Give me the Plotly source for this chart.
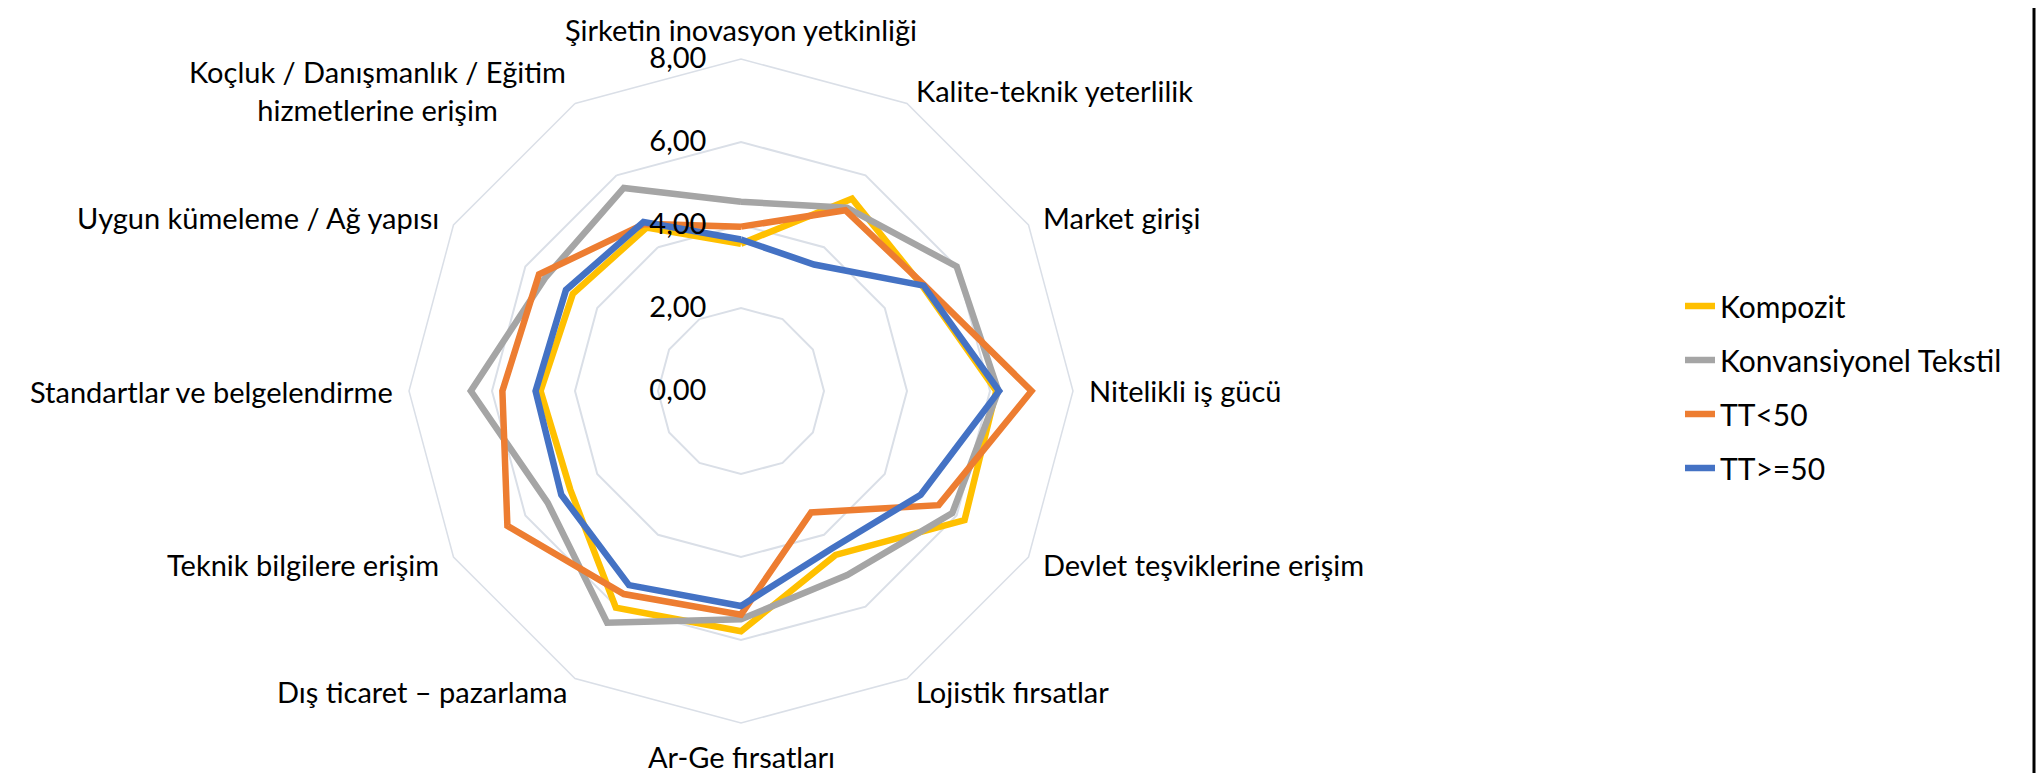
import math
import plotly.graph_objects as go

categories = [
    "Şirketin inovasyon yetkinliği",
    "Kalite-teknik yeterlilik",
    "Market girişi",
    "Nitelikli iş gücü",
    "Devlet teşviklerine erişim",
    "Lojistik fırsatlar",
    "Ar-Ge fırsatları",
    "Dış ticaret – pazarlama",
    "Teknik bilgilere erişim",
    "Standartlar ve belgelendirme",
    "Uygun kümeleme / Ağ yapısı",
    "Koçluk / Danışmanlık / Eğitim<br>hizmetlerine erişim",
]

kompozit = [3.55, 5.35, 5.05, 6.15, 6.22, 4.56, 5.79, 6.03, 4.75, 4.83, 4.68, 4.55]
konvansiyonel = [4.56, 5.10, 6.00, 6.20, 5.88, 5.12, 5.50, 6.45, 5.38, 6.51, 5.45, 5.65]
tt_kucuk = [3.96, 5.03, 5.10, 7.00, 5.50, 3.38, 5.39, 5.65, 6.50, 5.75, 5.62, 4.65]
tt_buyuk = [3.65, 3.52, 5.08, 6.22, 5.00, 4.38, 5.18, 5.40, 5.00, 4.95, 4.87, 4.70]

series_names = ["Kompozit", "Konvansiyonel Tekstil", "TT<50", "TT>=50"]
colors = ["#FFC000", "#A5A5A5", "#ED7D31", "#4472C4"]

fnt = "Lato"
fsize = 29
grid_col = "#DADFE7"
W, H = 2044, 773

fig = go.Figure()
for i, (name, vals) in enumerate(zip(series_names, [kompozit, konvansiyonel, tt_kucuk, tt_buyuk])):
    # close the polygon
    fig.add_trace(go.Scatterpolar(
        r=vals + vals[:1],
        theta=categories + categories[:1],
        mode="lines",
        name=name,
        legendgroup=name,
        line=dict(color=colors[i], width=6.5),
    ))

# polar box in pixels: centre (733, 383), radius 332
cx, cy, rad = 733, 383, 332

# Excel centres the category labels on their spoke; plotly's own tick labels
# sit lower/higher, so they are placed as annotations around the polygon
label_r = rad + 15
annos = []
n = len(categories)
for k, cat in enumerate(categories):
    a = math.radians(90 - 360.0 * k / n)
    rr = label_r if k != 0 else rad + 11  # keep the top one inside the page
    px = cx + rr * math.cos(a)
    py = cy - rr * math.sin(a)
    c = math.cos(a)
    xa = "left" if c > 0.01 else ("right" if c < -0.01 else "center")
    if k == 0:
        ya = "bottom"
    elif k == n // 2:
        ya = "top"
    else:
        ya = "middle"
    annos.append(dict(
        text=cat, xref="paper", yref="paper",
        x=px / W, y=1 - py / H, xanchor=xa, yanchor=ya,
        align="center", showarrow=False, borderpad=0,
        font=dict(family=fnt, size=fsize, color="black"),
    ))

fig.update_layout(
    width=W,
    height=H,
    paper_bgcolor="white",
    plot_bgcolor="white",
    margin=dict(l=0, r=0, t=0, b=0),
    separators=",.",
    font=dict(family=fnt, size=fsize, color="black"),
    polar=dict(
        domain=dict(x=[(cx - rad) / W, (cx + rad) / W],
                    y=[1 - (cy + rad) / H, 1 - (cy - rad) / H]),
        bgcolor="white",
        gridshape="linear",
        radialaxis=dict(
            range=[0, 8],
            dtick=2,
            tickformat=".2f",
            angle=90,
            tickangle=90,
            side="counterclockwise",
            showline=False,
            ticks="outside",
            ticklen=24,
            tickcolor="rgba(0,0,0,0)",
            gridcolor=grid_col,
            gridwidth=1.5,
            tickfont=dict(family=fnt, size=fsize, color="black"),
        ),
        angularaxis=dict(
            direction="clockwise",
            rotation=90,
            showgrid=False,
            showline=True,
            linecolor=grid_col,
            linewidth=1.5,
            ticks="",
            showticklabels=False,
        ),
    ),
    annotations=annos,
    showlegend=True,
    legend=dict(
        x=1672 / W,
        y=1 - 272 / H,
        xanchor="left",
        yanchor="top",
        tracegroupgap=12,
        traceorder="grouped",
        font=dict(family=fnt, size=30, color="black"),
    ),
    shapes=[dict(
        type="line", xref="paper", yref="paper",
        x0=2026 / W, x1=2026 / W, y0=0, y1=1,
        line=dict(color="black", width=3),
    )],
)

fig.write_html("out.html")
